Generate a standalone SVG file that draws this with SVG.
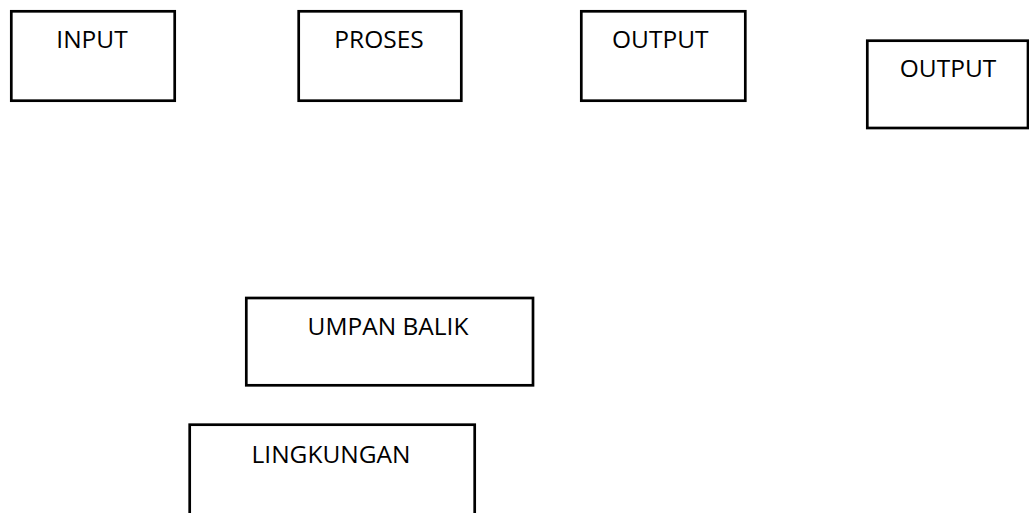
<svg xmlns="http://www.w3.org/2000/svg" width="1029" height="513" viewBox="0 0 1029 513">
<style>
.box{fill:#fff;stroke:#000;stroke-width:2.7}
.lbl{font-family:"Open Sans","Liberation Sans",sans-serif;font-size:24.5px;fill:#000;text-anchor:middle}
</style>
<rect width="1029" height="513" fill="#fff"/>
<g id="input"><rect class="box" x="11.3" y="11.3" width="163.4" height="89.4"/><text class="lbl" x="92" y="48.3">INPUT</text></g>
<g id="proses"><rect class="box" x="298.7" y="11.3" width="162.6" height="89.4"/><text class="lbl" x="379" y="48.3">PROSES</text></g>
<g id="output1"><rect class="box" x="581.3" y="11.3" width="164" height="89.4"/><text class="lbl" x="660.3" y="48.3">OUTPUT</text></g>
<g id="output2"><rect class="box" x="867.3" y="40.7" width="160.7" height="87.3"/><text class="lbl" x="948" y="76.7">OUTPUT</text></g>
<g id="umpan-balik"><rect class="box" x="246.3" y="298" width="286.7" height="87.3"/><text class="lbl" x="388" y="335">UMPAN BALIK</text></g>
<g id="lingkungan"><rect class="box" x="189.7" y="424.7" width="285" height="100"/><text class="lbl" x="331" y="462.7">LINGKUNGAN</text></g>
<g id="connectors"></g>
</svg>
